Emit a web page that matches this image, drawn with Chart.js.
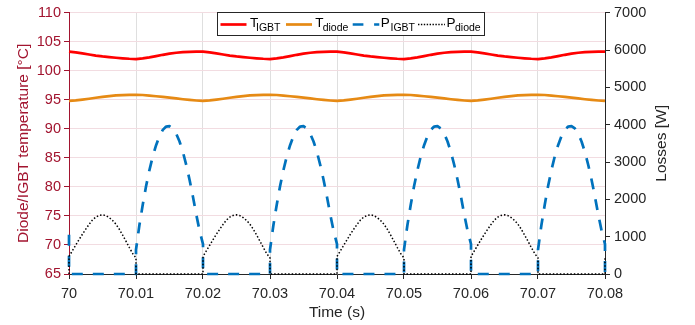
<!DOCTYPE html>
<html><head><meta charset="utf-8">
<script src="https://cdn.jsdelivr.net/npm/chart.js@4.4.1/dist/chart.umd.min.js"></script>
<style>html,body{margin:0;padding:0;background:#fff;overflow:hidden}#wrap{width:695px;height:325px}</style>
</head><body><div id="wrap"><canvas id="c" width="695" height="325"></canvas></div>
<script>
// ---- tick labels ----
const xTicks = [70, 70.01, 70.02, 70.03, 70.04, 70.05, 70.06, 70.07, 70.08];
const tempTicks = [65, 70, 75, 80, 85, 90, 95, 100, 105, 110];
const lossTicks = [0, 1000, 2000, 3000, 4000, 5000, 6000, 7000];

// ---- temperature series (sampled every 1 ms, 70.000 .. 70.080 s) ----
const tTemp = Array.from({length: 81}, (_, i) => +(70 + i * 0.001).toFixed(3));
const tIGBT = [
 103.30,103.18,103.00,102.80,102.62,102.47,102.35,102.24,102.15,102.07,102.02,102.12,102.30,102.52,102.75,102.95,103.10,103.20,103.27,103.30,103.30,
 103.18,103.00,102.80,102.62,102.47,102.35,102.24,102.15,102.07,102.02,102.12,102.30,102.52,102.75,102.95,103.10,103.20,103.27,103.30,103.30,
 103.18,103.00,102.80,102.62,102.47,102.35,102.24,102.15,102.07,102.02,102.12,102.30,102.52,102.75,102.95,103.10,103.20,103.27,103.30,103.30,
 103.18,103.00,102.80,102.62,102.47,102.35,102.24,102.15,102.07,102.02,102.12,102.30,102.52,102.75,102.95,103.10,103.20,103.27,103.30,103.30
];
const tDiode = [
 94.80,94.90,95.03,95.18,95.35,95.50,95.64,95.75,95.82,95.86,95.87,95.83,95.73,95.61,95.49,95.36,95.23,95.10,94.98,94.88,94.80,
 94.90,95.03,95.18,95.35,95.50,95.64,95.75,95.82,95.86,95.87,95.83,95.73,95.61,95.49,95.36,95.23,95.10,94.98,94.88,94.80,
 94.90,95.03,95.18,95.35,95.50,95.64,95.75,95.82,95.86,95.87,95.83,95.73,95.61,95.49,95.36,95.23,95.10,94.98,94.88,94.80,
 94.90,95.03,95.18,95.35,95.50,95.64,95.75,95.82,95.86,95.87,95.83,95.73,95.61,95.49,95.36,95.23,95.10,94.98,94.88,94.80
];

// ---- loss series: 0.5 ms samples per 10 ms segment, segment ends repeated (switching jumps) ----
const tPow = [70];
for (let k = 0; k < 8; k++) for (let j = 0; j <= 20; j++) tPow.push(+(70 + k * 0.01 + j * 0.0005).toFixed(4));
tPow.push(70.08);
const pIGBT = [
 1050,
 0,0,0,0,0,0,0,0,0,0,0,0,0,0,0,0,0,0,0,0,0,
 650,1300,1850,2350,2780,3150,3450,3690,3860,3950,3960,3900,3760,3550,3270,2920,2520,2070,1590,1150,800,
 0,0,0,0,0,0,0,0,0,0,0,0,0,0,0,0,0,0,0,0,0,
 650,1300,1850,2350,2780,3150,3450,3690,3860,3950,3960,3900,3760,3550,3270,2920,2520,2070,1590,1150,800,
 0,0,0,0,0,0,0,0,0,0,0,0,0,0,0,0,0,0,0,0,0,
 650,1300,1850,2350,2780,3150,3450,3690,3860,3950,3960,3900,3760,3550,3270,2920,2520,2070,1590,1150,800,
 0,0,0,0,0,0,0,0,0,0,0,0,0,0,0,0,0,0,0,0,0,
 650,1300,1850,2350,2780,3150,3450,3690,3860,3950,3960,3900,3760,3550,3270,2920,2520,2070,1590,1150,800,
 0
];
const pDiode = [
 0,
 470,620,770,920,1065,1200,1330,1445,1525,1570,1585,1565,1510,1435,1335,1200,1045,880,710,550,430,
 0,0,0,0,0,0,0,0,0,0,0,0,0,0,0,0,0,0,0,0,0,
 470,620,770,920,1065,1200,1330,1445,1525,1570,1585,1565,1510,1435,1335,1200,1045,880,710,550,430,
 0,0,0,0,0,0,0,0,0,0,0,0,0,0,0,0,0,0,0,0,0,
 470,620,770,920,1065,1200,1330,1445,1525,1570,1585,1565,1510,1435,1335,1200,1045,880,710,550,430,
 0,0,0,0,0,0,0,0,0,0,0,0,0,0,0,0,0,0,0,0,0,
 470,620,770,920,1065,1200,1330,1445,1525,1570,1585,1565,1510,1435,1335,1200,1045,880,710,550,430,
 0,0,0,0,0,0,0,0,0,0,0,0,0,0,0,0,0,0,0,0,0,
 450
];

const FONT = '"Liberation Sans", Arial, sans-serif';
const DARK = '#262626';
const CRIMSON = '#A2142F';
const C_RED = '#FF0000', C_ORANGE = '#E68A14', C_BLUE = '#0072BD', C_BLACK = '#000000';
const RIGHT_TITLE = 'Losses [W]';

const fmt = v => String(parseFloat((+v).toFixed(2)));
const setTicks = arr => s => { s.ticks = arr.map(v => ({value: v})); };

const legendPlugin = {
  id: 'matlabLegend',
  afterDraw(chart) {
    const ctx = chart.ctx;
    ctx.save();
    // right axis title, reading bottom-to-top like MATLAB
    const area = chart.chartArea;
    ctx.save();
    ctx.translate(662, (area.top + area.bottom) / 2);
    ctx.rotate(-Math.PI / 2);
    ctx.fillStyle = DARK; ctx.font = '15.5px ' + FONT;
    ctx.textAlign = 'center'; ctx.textBaseline = 'middle';
    ctx.fillText(RIGHT_TITLE, 0, 0);
    ctx.restore();

    ctx.fillStyle = '#fff';
    ctx.fillRect(217.5, 12.5, 267, 23);
    ctx.strokeStyle = DARK; ctx.lineWidth = 1; ctx.setLineDash([]);
    ctx.strokeRect(217.5, 12.5, 267, 23);
    const ly = 24.5;
    function sample(x0, x1, color, w, dash) {
      ctx.beginPath(); ctx.strokeStyle = color; ctx.lineWidth = w; ctx.setLineDash(dash);
      ctx.moveTo(x0, ly); ctx.lineTo(x1, ly); ctx.stroke(); ctx.setLineDash([]);
    }
    function label(x, main, sub, xs) {
      ctx.fillStyle = '#000'; ctx.textBaseline = 'alphabetic'; ctx.textAlign = 'left';
      ctx.font = '13.5px ' + FONT; ctx.fillText(main, x, 27);
      ctx.font = '10.5px ' + FONT; ctx.fillText(sub, xs, 31);
    }
    sample(220.5, 246.5, C_RED, 2.7, []);
    label(250, 'T', 'IGBT', 256);
    sample(286, 312, C_ORANGE, 2.7, []);
    label(315.3, 'T', 'diode', 322.7);
    sample(352.7, 379.3, C_BLUE, 2.7, [10.7, 10.7]);
    label(380.7, 'P', 'IGBT', 390.5);
    sample(418, 445, C_BLACK, 1.4, [1.4, 1.5]);
    label(446.5, 'P', 'diode', 455);
    ctx.restore();
  }
};

new Chart(document.getElementById('c'), {
  type: 'line',
  data: {
    datasets: [
      {label: 'P_diode', yAxisID: 'y1', data: tPow.map((t, i) => ({x: t, y: pDiode[i]})),
       borderColor: C_BLACK, borderWidth: 1.5, borderDash: [1.5, 2], pointRadius: 0, order: 0, clip: false},
      {label: 'P_IGBT', yAxisID: 'y1', data: tPow.map((t, i) => ({x: t, y: pIGBT[i]})),
       borderColor: C_BLUE, borderWidth: 2.7, borderDash: [11, 10], pointRadius: 0, order: 1, clip: false},
      {label: 'T_diode', yAxisID: 'y', data: tTemp.map((t, i) => ({x: t, y: tDiode[i]})),
       borderColor: C_ORANGE, borderWidth: 2.7, pointRadius: 0, order: 2, clip: false},
      {label: 'T_IGBT', yAxisID: 'y', data: tTemp.map((t, i) => ({x: t, y: tIGBT[i]})),
       borderColor: C_RED, borderWidth: 2.7, pointRadius: 0, order: 3, clip: false}
    ]
  },
  options: {
    responsive: false, animation: false, devicePixelRatio: 1,
    layout: {padding: {top: 11, left: 0, right: 0, bottom: 0}},
    plugins: {legend: {display: false}, tooltip: {enabled: false}},
    elements: {line: {tension: 0, borderJoinStyle: 'round'}},
    scales: {
      x: {
        type: 'linear', position: 'bottom', min: 70, max: 70.08,
        afterBuildTicks: setTicks(xTicks),
        afterFit: s => { s.height = 51; },
        ticks: {callback: fmt, color: DARK, font: {family: FONT, size: 14.5}, padding: 6, maxRotation: 0, autoSkip: false},
        grid: {color: '#DFDFDF', lineWidth: 1, tickColor: DARK, tickLength: 5, drawTicks: true},
        border: {color: DARK, width: 1},
        title: {display: true, text: 'Time (s)', color: DARK, font: {family: FONT, size: 15.5}, padding: {top: 0, bottom: 3}}
      },
      y: {
        type: 'linear', position: 'left', min: 65, max: 110,
        afterBuildTicks: setTicks(tempTicks),
        afterFit: s => { s.width = 69; },
        ticks: {callback: fmt, color: CRIMSON, font: {family: FONT, size: 14.5}, padding: 3},
        grid: {color: '#F2DCE1', lineWidth: 1, tickColor: CRIMSON, tickLength: 5},
        border: {color: CRIMSON, width: 1},
        title: {display: true, text: 'Diode/IGBT temperature [°C]', color: CRIMSON, font: {family: FONT, size: 15.5}, padding: {top: 14, bottom: 0}}
      },
      y1: {
        type: 'linear', position: 'right', min: 0, max: 7000,
        afterBuildTicks: setTicks(lossTicks),
        afterFit: s => { s.width = 90; },
        ticks: {callback: v => String(v), color: DARK, font: {family: FONT, size: 14.5}, padding: 4},
        grid: {drawOnChartArea: false, tickColor: DARK, tickLength: 5},
        border: {color: DARK, width: 1},
        title: {display: false}
      }
    }
  },
  plugins: [legendPlugin]
});
</script>
</body></html>
